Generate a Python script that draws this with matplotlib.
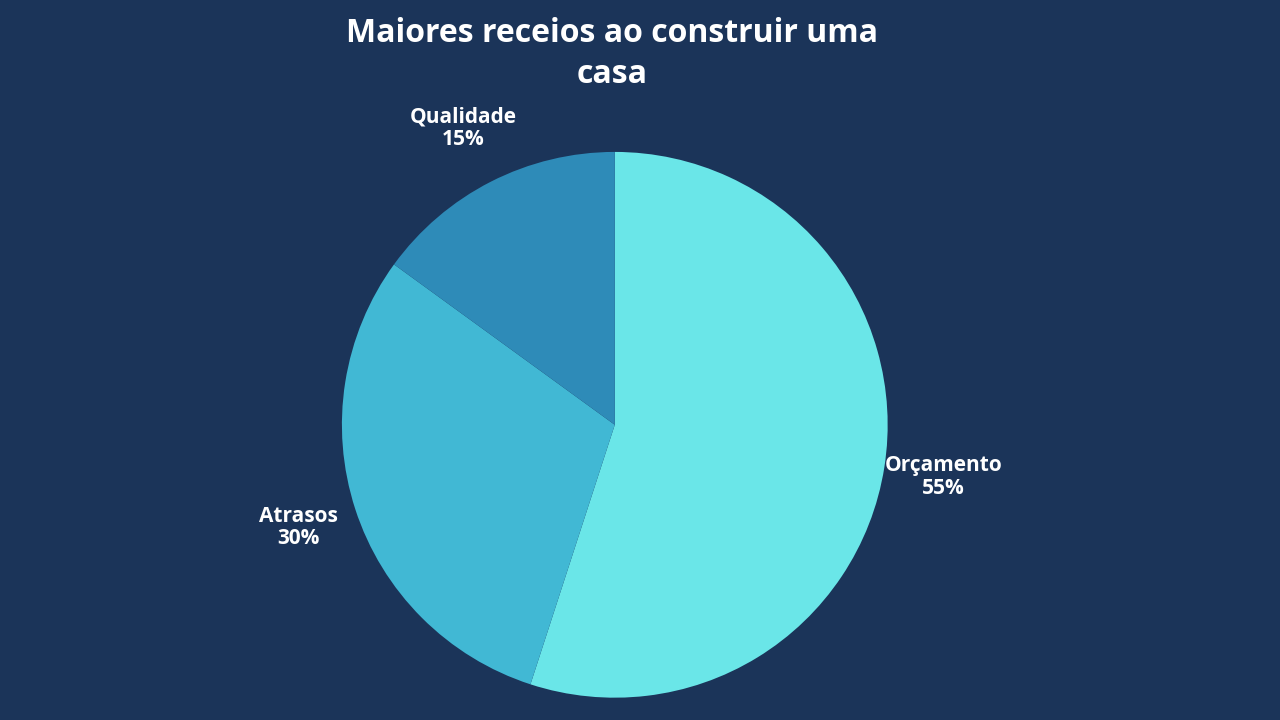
import matplotlib.pyplot as plt

plt.rcParams['font.family'] = ['Open Sans', 'DejaVu Sans']

categories = ['Orçamento', 'Atrasos', 'Qualidade']
values = [55, 30, 15]
slice_colors = ['#6ae6e8', '#41b8d4', '#2e8bb8']
bg = '#1b3459'

fig = plt.figure(figsize=(12.8, 7.2), dpi=100, facecolor=bg)
ax = fig.add_axes([0.267, 0.031, 0.4266, 0.758])
ax.set_facecolor(bg)

labels = [f'{c}\n{v}%' for c, v in zip(categories, values)]
wedges, texts = ax.pie(values, labels=labels, colors=slice_colors, startangle=90,
                       counterclock=False, labeldistance=1.22,
                       wedgeprops={'linewidth': 0},
                       textprops={'color': 'white', 'fontsize': 15, 'fontweight': 'bold'})
for t in texts:
    t.set_ha('center')
    t.set_linespacing(1.1)
ax.set_xlim(-1, 1)
ax.set_ylim(-1, 1)
ax.set_aspect('equal')
ax.axis('off')

fig.text(0.478, 0.925, 'Maiores receios ao construir uma\ncasa', ha='center', va='center',
         color='white', fontsize=23, fontweight='bold', linespacing=1.3)

fig.savefig('out.png', dpi=100, facecolor=bg)
